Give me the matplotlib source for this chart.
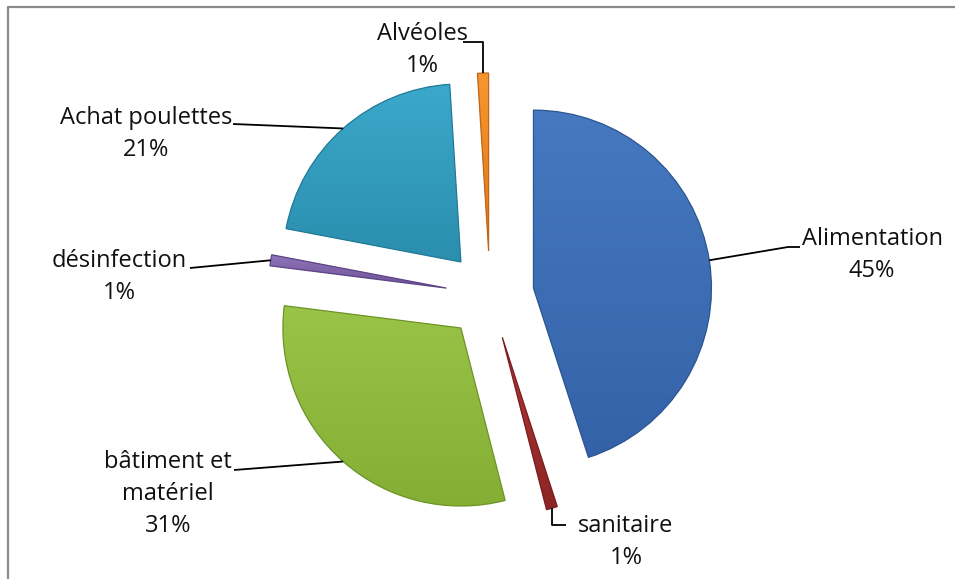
import numpy as np
import matplotlib
matplotlib.use("Agg")
import matplotlib.pyplot as plt
import matplotlib.patches as mpatches
from matplotlib.colors import LinearSegmentedColormap

# data
labels = ["Alimentation", "sanitaire", "bâtiment et\nmatériel", "désinfection",
          "Achat poulettes", "Alvéoles"]
values = [45, 1, 31, 1, 21, 1]

# colours (top -> bottom of gradient)
light = ["#4679C0", "#B0363A", "#9AC448", "#8E74B8", "#3BA8CA", "#F7962E"]
dark = ["#3462A8", "#8C2424", "#84AE34", "#6E5298", "#2B8EAE", "#DE7818"]
edges = ["#2E5690", "#7A1E1E", "#6E9428", "#5E4486", "#237A98", "#C0661A"]

W, H = 955, 579


def px(x, y):
    # image pixel coords -> data coords (y up)
    return x, H - y


# label block centres and leader elbows, in image pixels
label_pos = [(872, 255), (626, 542), (168, 494), (119, 277), (146, 134), (422, 50)]
leader_pts = [
    [(788, 247), (800, 247)],
    [None, (566, 525)],
    [(234, 470)],
    [(190, 268)],
    [(233, 124)],
    [None, (463, 42)],
]

plt.rcParams['font.family'] = ['Open Sans', 'DejaVu Sans']

fig = plt.figure(figsize=(W / 100, H / 100), dpi=100)
ax = fig.add_axes([0, 0, 1, 1])

wedges, _ = ax.pie(values, startangle=90, counterclock=False,
                   colors=light, explode=[44] * len(values), radius=178,
                   center=px(490, 295),
                   wedgeprops=dict(linewidth=0, zorder=1))

for i, w in enumerate(wedges):
    ext = w.get_path().get_extents()
    cmap = LinearSegmentedColormap.from_list("g%d" % i, [dark[i], light[i]])
    grad = np.linspace(0, 1, 128).reshape(-1, 1)
    im = ax.imshow(grad, cmap=cmap, origin="lower", aspect="auto",
                   extent=[ext.x0, ext.x1, ext.y0, ext.y1], zorder=2)
    im.set_clip_path(w)
    ax.add_patch(mpatches.Wedge(w.center, w.r, w.theta1, w.theta2, fill=False,
                                edgecolor=edges[i], linewidth=0.9, zorder=3))

    # leader line from the middle of the arc
    tm = np.deg2rad((w.theta1 + w.theta2) / 2)
    a = (w.center[0] + w.r * np.cos(tm), w.center[1] + w.r * np.sin(tm))
    pts = [a]
    spec = leader_pts[i]
    if spec[0] is None:
        ex, ey = px(*spec[1])
        pts += [(a[0], ey), (ex, ey)]
    else:
        pts += [px(*p) for p in spec]
    xs, ys = zip(*pts)
    ax.plot(xs, ys, color="black", lw=1.3, zorder=4, solid_capstyle="butt")

    pct = "%d%%" % values[i]
    ax.text(*px(*label_pos[i]), labels[i] + "\n" + pct, ha="center", va="center",
            multialignment="center", fontsize=17, linespacing=1.42, color="#111111")

# chart border (top and left visible)
ax.plot([7.5, 7.5, W], [0, H - 6.5, H - 6.5], color="#8a8a8a", lw=1.6, zorder=5)

ax.set_xlim(0, W)
ax.set_ylim(0, H)
ax.set_aspect("auto")
ax.axis("off")

fig.savefig("out.png", dpi=100, facecolor="white")
